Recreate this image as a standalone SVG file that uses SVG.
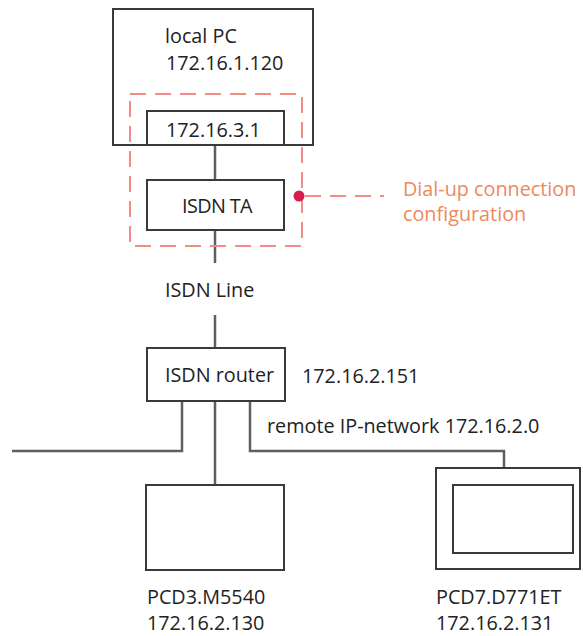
<svg xmlns="http://www.w3.org/2000/svg" width="583" height="636" viewBox="0 0 583 636">
<style>
.box{fill:none;stroke:#3a3a3a;stroke-width:2}
.wire{fill:none;stroke:#5f5f5f;stroke-width:2.5}
.t{font-family:"Open Sans","Liberation Sans",sans-serif;font-size:19.8px;fill:#222}
.o{font-family:"Open Sans","Liberation Sans",sans-serif;font-size:19.8px;fill:#EC8A5E}
.dash{fill:none;stroke:#F28C84;stroke-width:2;stroke-dasharray:16 9}
</style>
<rect width="583" height="636" fill="#fff"/>
<g id="connectors">
<line class="wire" x1="215" y1="145" x2="215" y2="180"/>
<line class="wire" x1="215" y1="230" x2="215" y2="263"/>
<line class="wire" x1="215" y1="315" x2="215" y2="348"/>
<polyline class="wire" points="182,401 182,451 12,451"/>
<line class="wire" x1="215" y1="401" x2="215" y2="485"/>
<polyline class="wire" points="250,401 250,451 504,451 504,468"/>
</g>
<g id="localpc">
<rect class="box" x="113" y="9" width="200" height="136"/>
<text class="t" x="165" y="43">local PC</text>
<text class="t" x="166" y="70">172.16.1.120</text>
</g>
<g id="iface">
<rect class="box" x="147" y="111" width="137" height="34"/>
<text class="t" x="166" y="137">172.16.3.1</text>
</g>
<g id="isdnta">
<rect class="box" x="147" y="180" width="137" height="50"/>
<text class="t" x="182" y="213" letter-spacing="-0.6">ISDN TA</text>
</g>
<g id="dialup">
<rect class="dash" x="130" y="94" width="172" height="152"/>
<line class="dash" x1="299" y1="196" x2="384" y2="196" stroke-dashoffset="-6"/>
<circle cx="299" cy="196" r="5.5" fill="#D61F4F"/>
<text class="o" x="403" y="196">Dial-up connection</text>
<text class="o" x="403" y="221">configuration</text>
</g>
<g id="isdnline">
<text class="t" x="165" y="297">ISDN Line</text>
</g>
<g id="router">
<rect class="box" x="147" y="348" width="138" height="53"/>
<text class="t" x="165" y="382">ISDN router</text>
<text class="t" x="302" y="383">172.16.2.151</text>
</g>
<g id="network">
<text class="t" x="267" y="433">remote IP-network 172.16.2.0</text>
</g>
<g id="pcd3">
<rect class="box" x="146" y="485" width="138" height="85"/>
<text class="t" x="147" y="604">PCD3.M5540</text>
<text class="t" x="147" y="630">172.16.2.130</text>
</g>
<g id="pcd7">
<rect class="box" x="436" y="468" width="144" height="101"/>
<rect class="box" x="453" y="485" width="120" height="68"/>
<text class="t" x="436" y="604">PCD7.D771ET</text>
<text class="t" x="436" y="630">172.16.2.131</text>
</g>
</svg>
